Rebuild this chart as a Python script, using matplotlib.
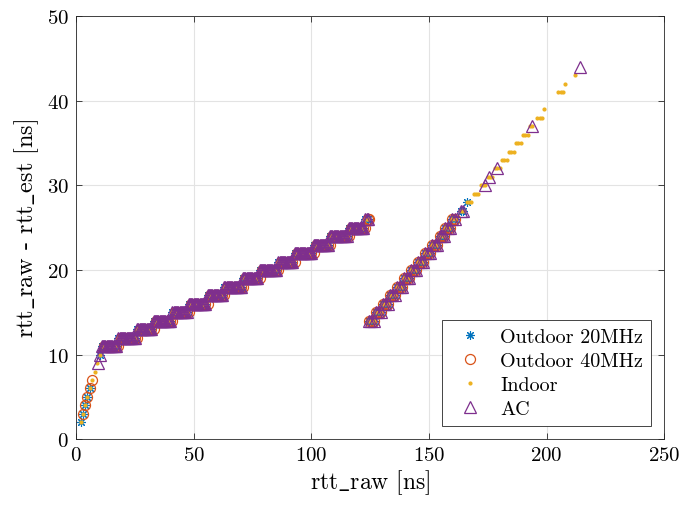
import numpy as np
import matplotlib
matplotlib.use("Agg")
import matplotlib.pyplot as plt

plt.rcParams['font.family'] = ['cmr10']
plt.rcParams['mathtext.fontset'] = 'cm'
plt.rcParams['axes.formatter.use_mathtext'] = True

# MATLAB default colours
c_blue = '#0072BD'
c_orange = '#D95319'
c_yellow = '#EDB120'
c_purple = '#7E2F8E'

# lower staircase (rtt_raw < 125 ns): 20MHz, Indoor and AC lie on it
low_levels = [11, 12, 13, 14, 15, 16, 17, 18, 19, 20, 21, 22, 23, 24, 25, 26]
low_x = [
    [11, 11.5, 12, 12.5, 13, 13.5, 14, 14.5, 15, 15.5, 16, 16.5, 17],
    [18, 18.5, 19, 19.5, 20, 20.5, 21, 21.5, 22, 22.5, 23, 23.5, 24, 24.5, 25],
    [26, 26.5, 27, 27.5, 28, 28.5, 29, 29.5, 30, 30.5, 31, 31.5, 32],
    [33, 33.5, 34, 34.5, 35, 35.5, 36, 36.5, 37, 37.5, 38, 38.5, 39, 39.5, 40],
    [41, 41.5, 42, 42.5, 43, 43.5, 44, 44.5, 45, 45.5, 46, 46.5, 47],
    [48, 48.5, 49, 49.5, 50, 50.5, 51, 51.5, 52, 52.5, 53, 53.5, 54, 54.5, 55],
    [56, 56.5, 57, 57.5, 58, 58.5, 59, 59.5, 60, 60.5, 61, 61.5, 62],
    [63, 63.5, 64, 64.5, 65, 65.5, 66, 66.5, 67, 67.5, 68, 68.5, 69, 69.5, 70],
    [71, 71.5, 72, 72.5, 73, 73.5, 74, 74.5, 75, 75.5, 76, 76.5, 77],
    [78, 78.5, 79, 79.5, 80, 80.5, 81, 81.5, 82, 82.5, 83, 83.5, 84, 84.5, 85],
    [86, 86.5, 87, 87.5, 88, 88.5, 89, 89.5, 90, 90.5, 91, 91.5, 92],
    [93, 93.5, 94, 94.5, 95, 95.5, 96, 96.5, 97, 97.5, 98, 98.5, 99, 99.5, 100],
    [101, 101.5, 102, 102.5, 103, 103.5, 104, 104.5, 105, 105.5, 106, 106.5, 107],
    [108, 108.5, 109, 109.5, 110, 110.5, 111, 111.5, 112, 112.5, 113, 113.5, 114, 114.5, 115],
    [116, 116.5, 117, 117.5, 118, 118.5, 119, 119.5, 120, 120.5, 121, 121.5, 122],
    [123, 123.5, 124],
]
# 40MHz points sit a little further right on each step
low_x_40 = [
    [12, 13, 14, 15, 16, 17, 18],
    [19, 20, 21, 22, 23, 24, 25, 26],
    [27, 28, 29, 30, 31, 32, 33],
    [34, 35, 36, 37, 38, 39, 40, 41],
    [42, 43, 44, 45, 46, 47, 48],
    [49, 50, 51, 52, 53, 54, 55, 56],
    [57, 58, 59, 60, 61, 62, 63],
    [64, 65, 66, 67, 68, 69, 70, 71],
    [72, 73, 74, 75, 76, 77, 78],
    [79, 80, 81, 82, 83, 84, 85, 86],
    [87, 88, 89, 90, 91, 92, 93],
    [94, 95, 96, 97, 98, 99, 100, 101],
    [102, 103, 104, 105, 106, 107, 108],
    [109, 110, 111, 112, 113, 114, 115, 116],
    [117, 118, 119, 120, 121, 122, 123],
    [124, 124.5],
]

# upper staircase (rtt_raw > 125 ns)
high_levels = [14, 15, 16, 17, 18, 19, 20, 21, 22, 23, 24, 25, 26]
high_x = [
    [124.5, 125.5, 126.5],
    [127.5, 128.5, 129.5],
    [130.5, 131.5, 132.5],
    [133.5, 134.5, 135.5],
    [136.5, 137.5, 138.5],
    [139.5, 140.5, 141.5],
    [142.5, 143.5, 144.5],
    [145.5, 146.5, 147.5],
    [148.5, 149.5, 150.5],
    [151.5, 152.5, 153.5],
    [154.5, 155.5, 156.5],
    [157, 158, 159],
    [160, 161],
]

# extra points per data set
o20_x = [2, 3, 3.8, 4.8, 6, 10, 163.5, 164.5, 166]
o20_y = [2, 3, 4, 5, 6, 10, 27, 27, 28]

o40_x = [3, 3.8, 4.8, 6, 7]
o40_y = [3, 4, 5, 6, 7]

indoor_x = [2, 3, 3.8, 4.8, 6, 7, 8, 9, 10, 163.5, 164.5, 166, 167, 168,
            169, 170, 171, 172, 173, 174, 175, 176, 177, 178, 179, 180,
            181, 182, 183, 184, 185, 186, 187, 188, 189, 190, 191, 192,
            193, 194, 196, 197, 198, 199, 205, 206, 207, 208, 212]
indoor_y = [2, 3, 4, 5, 6, 7, 8, 9, 10, 27, 27, 28, 28, 28,
            29, 29, 29, 30, 30, 30, 31, 31, 31, 32, 32, 32,
            33, 33, 33, 34, 34, 34, 35, 35, 35, 36, 36, 36,
            37, 37, 38, 38, 38, 39, 41, 41, 41, 42, 43]

ac_x = [9.2, 10.2, 163.5, 164.5, 174, 175.5, 179, 194, 214]
ac_y = [9, 10, 27, 27, 30, 31, 32, 37, 44]


def collect(extra_x, extra_y, low_rows):
    xs, ys = list(extra_x), list(extra_y)
    for lev, row in zip(low_levels + high_levels, low_rows + high_x):
        xs += row
        ys += [lev] * len(row)
    return np.array(xs), np.array(ys)


fig = plt.figure(figsize=(6.97, 5.06), dpi=100)
ax = fig.add_axes([0.109, 0.130, 0.844, 0.836])

x1, y1 = collect(o20_x, o20_y, low_x)
x2, y2 = collect(o40_x, o40_y, low_x_40)
x3, y3 = collect(indoor_x, indoor_y, low_x)
x4, y4 = collect(ac_x, ac_y, low_x)

ax.plot(x1, y1, ls='none', marker=(8, 2, 0), ms=6.3, mec=c_blue, mew=0.8,
        label='Outdoor 20MHz')
ax.plot(x2, y2, ls='none', marker='o', ms=7.2, mec=c_orange, mfc='none', mew=0.9,
        label='Outdoor 40MHz')
ax.plot(x3, y3, ls='none', marker='.', ms=4, color=c_yellow, label='Indoor')
ax.plot(x4, y4, ls='none', marker='^', ms=8, mec=c_purple, mfc='none', mew=0.9,
        label='AC')

ax.set_xlim(0, 250)
ax.set_ylim(0, 50)
ax.set_xticks([0, 50, 100, 150, 200, 250])
ax.set_yticks([0, 10, 20, 30, 40, 50])
ax.grid(True, color='#e3e3e3', lw=0.8)
ax.set_axisbelow(True)
ax.tick_params(direction='in', top=True, right=True, length=4, width=0.6,
               labelsize=15, colors='#262626', pad=5)
for tl in ax.get_xticklabels() + ax.get_yticklabels():
    tl.set_color('black')
for s in ax.spines.values():
    s.set_color('#262626')
    s.set_linewidth(0.6)

ax.set_xlabel(r'$\mathrm{rtt\_raw}$ [ns]', fontsize=17, labelpad=2)
ax.set_ylabel(r'$\mathrm{rtt\_raw}$ - $\mathrm{rtt\_est}$ [ns]', fontsize=17.5, labelpad=4)

leg = ax.legend(loc='lower right', bbox_to_anchor=(0.978, 0.032), borderaxespad=0,
                fancybox=False, framealpha=1, edgecolor='#262626', fontsize=14.5,
                handlelength=2, handletextpad=0.5, borderpad=0.4, labelspacing=0.28)
leg.get_frame().set_linewidth(0.6)

fig.savefig('out.png', dpi=100)
